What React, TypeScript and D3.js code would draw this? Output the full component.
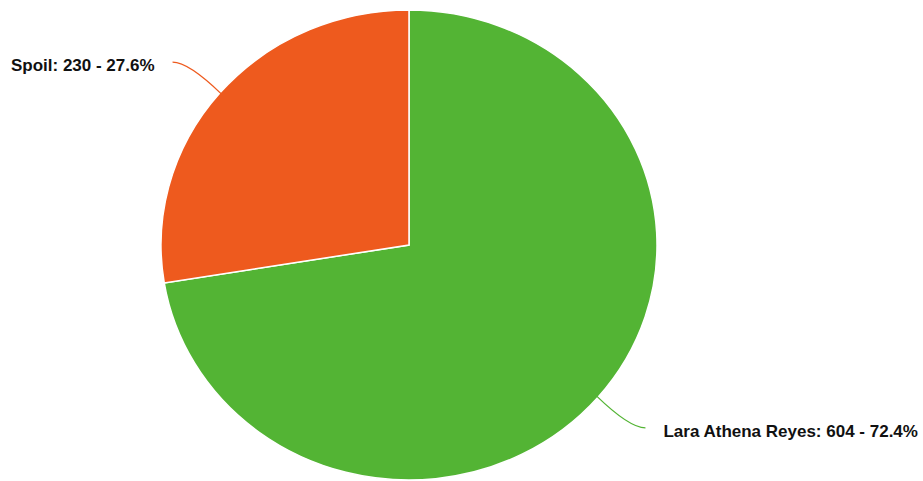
import * as d3 from "d3";
import { useEffect, useRef } from "react";

// data
const names = ["Lara Athena Reyes", "Spoil"];
const votes = [604, 230];
const percents = ["72.4%", "27.6%"];
const colors = ["#53b434", "#ee5a1e"];

export default function App() {
  const svgRef = useRef<SVGSVGElement>(null);

  useEffect(() => {
    if (!svgRef.current) return;
    const svg = d3.select(svgRef.current);
    svg.selectAll("*").remove();

    const width = 923;
    const height = 481;
    const cx = 409;
    const cy = 245;
    const rx = 248;
    const ry = 235;
    const sy = ry / rx;

    svg.attr("width", width).attr("height", height);

    const data = names.map((n, i) => ({ name: n, value: votes[i], pct: percents[i], color: colors[i] }));
    const pie = d3.pie<(typeof data)[number]>().sort(null).value((d) => d.value);
    const arcs = pie(data);
    const arc = d3.arc<d3.PieArcDatum<(typeof data)[number]>>().innerRadius(0).outerRadius(rx);

    // pie is slightly squashed vertically in the reference
    const g = svg.append("g").attr("transform", `translate(${cx},${cy}) scale(1,${sy})`);
    g.selectAll("path")
      .data(arcs)
      .enter()
      .append("path")
      .attr("d", arc)
      .style("fill", (d) => d.data.color)
      .style("stroke", "#fff")
      .style("stroke-width", 1.5)
      .attr("vector-effect", "non-scaling-stroke");

    // leader lines + labels
    const lg = svg.append("g").attr("transform", `translate(${cx},${cy})`);
    arcs.forEach((d) => {
      const a = (d.startAngle + d.endAngle) / 2;
      const s = Math.sin(a);
      const c = Math.cos(a);
      const p0 = [s * (rx - 2), -c * (ry - 2)];
      const dir = s < 0 ? -1 : 1;
      const vdir = c > 0 ? -1 : 1;
      const p2 = [p0[0] + dir * 49, p0[1] + vdir * 32];
      const p1 = [p2[0] - dir * 16, p2[1]];
      lg.append("path")
        .attr("d", `M${p0[0]},${p0[1]} Q${p1[0]},${p1[1]} ${p2[0]},${p2[1]}`)
        .style("fill", "none")
        .style("stroke", d.data.color)
        .style("stroke-width", 1.3);
      lg.append("text")
        .attr("x", p2[0] + dir * 18)
        .attr("y", p2[1])
        .attr("dy", "0.52em")
        .attr("text-anchor", dir < 0 ? "end" : "start")
        .style("font-family", "'Liberation Sans', Arial, sans-serif")
        .style("font-weight", "bold")
        .style("font-size", "17px")
        .style("fill", "#111")
        .text(`${d.data.name}: ${d.data.value} - ${d.data.pct}`);
    });
  }, []);

  return (
    <svg
      ref={svgRef}
      style={{ position: "absolute", left: 0, top: 0, background: "#fff" }}
    ></svg>
  );
}
